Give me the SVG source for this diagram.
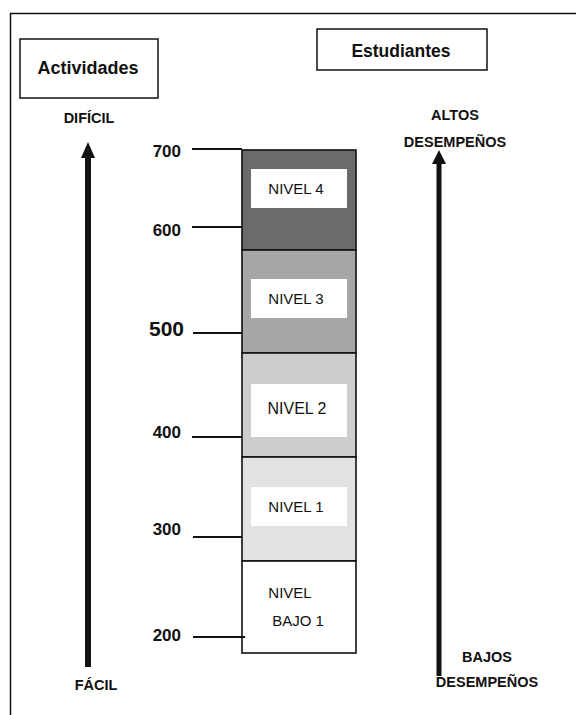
<svg xmlns="http://www.w3.org/2000/svg" width="576" height="715" viewBox="0 0 576 715">
<style>
text{font-family:"Liberation Sans",Arial,sans-serif;fill:#111}
.t{font-size:18px;font-weight:bold}
.n{font-size:17px;font-weight:bold;text-anchor:end}
.lv{font-size:15px;text-anchor:middle}
.ax{font-size:14.5px;font-weight:bold;text-anchor:middle}
.box{fill:#fff;stroke:#111;stroke-width:1.5}
.lvl{stroke:#111;stroke-width:1.6}
.tick{stroke:#111;stroke-width:2.2}
.wb{fill:#fff}
</style>
<rect x="0" y="0" width="576" height="715" fill="#fff"/>
<path d="M10.5 720 V13.5 H580" fill="none" stroke="#111" stroke-width="1.5"/>
<g id="actividades"><rect class="box" x="20" y="39" width="138" height="59"/><text class="t" x="88" y="74" text-anchor="middle">Actividades</text></g>
<g id="estudiantes"><rect class="box" x="317" y="29" width="170" height="41"/><text class="t" x="401" y="57" text-anchor="middle" style="font-size:17.5px">Estudiantes</text></g>
<g id="dificil"><text class="ax" x="89" y="123">DIFÍCIL</text></g>
<g id="facil"><text class="ax" x="96" y="690">FÁCIL</text></g>
<g id="altos"><text class="ax" x="455" y="120">ALTOS</text><text class="ax" x="455" y="147">DESEMPEÑOS</text></g>
<g id="bajos"><text class="ax" x="487" y="662">BAJOS</text><text class="ax" x="487" y="687">DESEMPEÑOS</text></g>
<g id="nivel4"><rect class="lvl" x="242" y="150" width="114" height="100" fill="#6b6b6b"/><rect class="wb" x="251" y="169" width="96" height="39"/><text class="lv" x="296" y="194">NIVEL 4</text></g>
<g id="nivel3"><rect class="lvl" x="242" y="250" width="114" height="103" fill="#a6a6a6"/><rect class="wb" x="251" y="279" width="96" height="39"/><text class="lv" x="296" y="304">NIVEL 3</text></g>
<g id="nivel2"><rect class="lvl" x="242" y="353" width="114" height="104" fill="#cdcdcd"/><rect class="wb" x="251" y="384" width="96" height="53"/><text class="lv" x="297" y="414" style="font-size:16px">NIVEL 2</text></g>
<g id="nivel1"><rect class="lvl" x="242" y="457" width="114" height="104" fill="#e2e2e2"/><rect class="wb" x="251" y="487" width="96" height="39"/><text class="lv" x="296" y="512">NIVEL 1</text></g>
<g id="bajo1"><rect class="lvl" x="242" y="561" width="114" height="92" fill="#fff"/><text class="lv" x="290" y="598">NIVEL</text><text class="lv" x="298" y="626">BAJO 1</text></g>
<g id="scale">
<text class="n" x="181" y="157">700</text>
<text class="n" x="181" y="236">600</text>
<text class="n" x="184" y="336" style="font-size:21px">500</text>
<text class="n" x="181" y="438">400</text>
<text class="n" x="181" y="535">300</text>
<text class="n" x="181" y="641">200</text>
</g>
<g id="connectors">
<line class="tick" x1="192" y1="149" x2="242" y2="149"/>
<line class="tick" x1="192" y1="227" x2="242" y2="227"/>
<line class="tick" x1="193" y1="333" x2="242" y2="333"/>
<line class="tick" x1="192" y1="437" x2="242" y2="437"/>
<line class="tick" x1="193" y1="537" x2="242" y2="537"/>
<line class="tick" x1="193" y1="637" x2="245" y2="637"/>
<line x1="88" y1="155" x2="88" y2="667" stroke="#111" stroke-width="6"/>
<polygon points="88,142 81,158 95,158" fill="#111"/>
<line x1="439" y1="160" x2="439" y2="676" stroke="#111" stroke-width="5"/>
<polygon points="439,150 432,164 446,164" fill="#111"/>
</g>
</svg>
